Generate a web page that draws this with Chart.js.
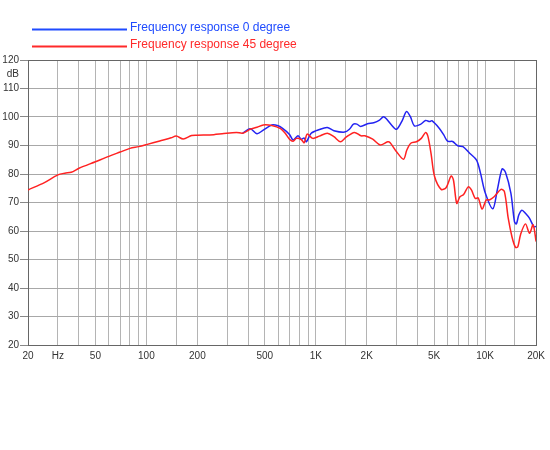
<!DOCTYPE html>
<html>
<head>
<meta charset="utf-8">
<script src="https://cdn.jsdelivr.net/npm/chart.js@4"></script>
<style>
  html, body { margin: 0; padding: 0; background: #fff; }
  canvas { display: block; }
</style>
</head>
<body>
<canvas id="fr" width="550" height="450"></canvas>
<script>
// low end: only the 45 degree curve is visible here (0 degree lies underneath)
const lowFreq = [20, 25, 30, 33, 36, 40, 50, 60, 70, 80, 90, 100, 120, 140, 150, 165, 185, 200, 250, 280, 340, 370];
const lowDb   = [74.4, 77.0, 79.7, 80.3, 80.6, 82.0, 84.3, 86.2, 87.7, 89.0, 89.6, 90.3, 91.6, 92.7, 93.3, 92.3, 93.5, 93.6, 93.8, 94.1, 94.6, 94.3];

// 0 degree, from where it leaves the 45 degree curve
const blueFreq = [370, 410, 450, 490, 550, 600, 640, 700, 735, 785, 820, 855, 880, 940, 1050, 1170, 1280, 1480, 1580, 1670, 1750, 1840, 2020, 2200, 2380, 2510, 2620, 2800, 3000, 3250, 3430, 3620, 3820, 4150, 4450, 4700, 4850, 5370, 5700, 6000, 6430, 6900, 7400, 8100, 8900, 9400, 10000, 11100, 11800, 12600, 13200, 14200, 14900, 15300, 15800, 16500, 17300, 18300, 19400, 20000];
const blueDb   = [94.3, 95.9, 94.1, 95.4, 97.2, 96.9, 95.9, 93.9, 91.9, 93.4, 92.2, 92.6, 91.3, 94.3, 95.6, 96.3, 95.2, 94.7, 95.7, 97.5, 97.5, 96.7, 97.6, 98.0, 98.9, 100.1, 99.3, 97.2, 95.7, 98.9, 101.9, 100.1, 96.9, 97.4, 98.8, 98.4, 98.7, 96.0, 93.7, 91.5, 91.4, 89.9, 89.6, 87.3, 84.9, 80.2, 73.5, 67.8, 74.4, 81.8, 80.5, 73.2, 63.3, 62.5, 65.6, 67.3, 66.2, 64.4, 61.5, 61.6];

// 45 degree, from 400 Hz up
const redFreq = [410, 450, 490, 550, 620, 660, 700, 735, 770, 820, 855, 890, 960, 1050, 1170, 1280, 1400, 1510, 1690, 1850, 1950, 2170, 2400, 2660, 2750, 3000, 3300, 3450, 3640, 3930, 4200, 4460, 4600, 4800, 5030, 5500, 5880, 6300, 6500, 6800, 7100, 7460, 7950, 8300, 8750, 9100, 9600, 10150, 10600, 11300, 12400, 13000, 13700, 14400, 15100, 15600, 16200, 17300, 18300, 19200, 20000];
const redDb   = [95.7, 96.4, 97.2, 97.0, 95.9, 94.3, 92.2, 91.5, 92.5, 92.1, 91.0, 94.0, 92.5, 93.3, 94.3, 93.1, 91.3, 92.9, 94.6, 93.4, 93.4, 92.2, 90.2, 91.3, 91.0, 87.8, 85.2, 88.4, 90.8, 91.3, 92.5, 94.6, 93.1, 87.0, 79.1, 74.6, 75.2, 79.3, 77.9, 69.7, 72.0, 72.8, 75.5, 74.4, 71.4, 71.6, 67.7, 70.9, 70.9, 72.0, 74.6, 73.8, 64.4, 58.0, 54.3, 54.5, 58.8, 62.5, 59.2, 62.2, 56.3];

// grid lines and the few that carry a label
const gridFreqs = [20, 30, 40, 50, 60, 70, 80, 90, 100, 150, 200, 300, 400, 500, 600, 700, 800, 900,
  1000, 1500, 2000, 3000, 4000, 5000, 6000, 7000, 8000, 9000, 10000, 15000, 20000];
const freqLabels = { 20: '20', 30: 'Hz', 50: '50', 100: '100', 200: '200', 500: '500',
  1000: '1K', 2000: '2K', 5000: '5K', 10000: '10K', 20000: '20K' };
const dbUnitAt = 115;

const BLUE = '#2323f2';
const RED = '#ff2222';
const FONT = "'Liberation Sans', Arial, sans-serif";

function toPoints(freqs, dbs) {
  return freqs.map((f, i) => ({ x: f, y: dbs[i] }));
}

const legendLines = {
  id: 'legendLines',
  afterDraw(chart) {
    const ctx = chart.ctx;
    const rows = [
      [chart.data.datasets[1], '#1f4bff', 28],
      [chart.data.datasets[0], '#ff2a2a', 45]
    ];
    ctx.save();
    ctx.font = '12px ' + FONT;
    ctx.textBaseline = 'middle';
    rows.forEach(([ds, textColor, y]) => {
      ctx.strokeStyle = textColor;
      ctx.lineWidth = 2;
      ctx.beginPath();
      ctx.moveTo(32, y + 1.5);
      ctx.lineTo(127, y + 1.5);
      ctx.stroke();
      ctx.fillStyle = textColor;
      ctx.fillText(ds.label, 130, y);
    });
    ctx.restore();
  }
};

new Chart(document.getElementById('fr'), {
  type: 'scatter',
  data: {
    datasets: [{
      label: 'Frequency response 45 degree',
      data: toPoints(lowFreq.concat(redFreq), lowDb.concat(redDb)),
      borderColor: RED,
      order: 1
    }, {
      label: 'Frequency response 0 degree',
      data: toPoints(blueFreq, blueDb),
      borderColor: BLUE,
      order: 2
    }]
  },
  options: {
    responsive: false,
    animation: false,
    showLine: true,
    elements: {
      point: { radius: 0 },
      line: { borderWidth: 1.5, tension: 0.3, fill: false }
    },
    layout: { padding: { top: 60, right: 13, bottom: 85, left: 0 } },
    plugins: { legend: { display: false }, tooltip: { enabled: false } },
    scales: {
      x: {
        type: 'logarithmic',
        min: 20,
        max: 20000,
        afterBuildTicks(scale) {
          scale.ticks = gridFreqs.map(v => ({ value: v }));
        },
        afterFit(scale) { scale.height = 20; },
        ticks: {
          autoSkip: false,
          maxRotation: 0,
          padding: 5,
          color: '#333',
          font: { family: FONT, size: 10 },
          callback: v => freqLabels[v] || ''
        },
        grid: {
          drawTicks: false,
          color: ctx => ctx.tick && ctx.tick.value === 20000 ? '#666' : '#b4b4b4',
          lineWidth: 1
        },
        border: { color: '#666', width: 1 }
      },
      y: {
        min: 20,
        max: 120,
        afterBuildTicks(scale) {
          scale.ticks.push({ value: dbUnitAt });
          scale.ticks.sort((a, b) => a.value - b.value);
        },
        afterFit(scale) { scale.width = 28; },
        ticks: {
          stepSize: 10,
          autoSkip: false,
          padding: 1,
          color: '#333',
          font: { family: FONT, size: 10 },
          callback: v => v === dbUnitAt ? 'dB' : String(v)
        },
        grid: {
          tickLength: 8,
          color: ctx => {
            if (!ctx.tick) return '#a8a8a8';
            if (ctx.tick.value === dbUnitAt) return 'rgba(0,0,0,0)';
            return ctx.tick.value === 120 ? '#666' : '#a8a8a8';
          },
          tickColor: ctx => ctx.tick && ctx.tick.value === dbUnitAt ? 'rgba(0,0,0,0)' : '#888'
        },
        border: { color: '#666', width: 1 }
      }
    }
  },
  plugins: [legendLines]
});
</script>
</body>
</html>
